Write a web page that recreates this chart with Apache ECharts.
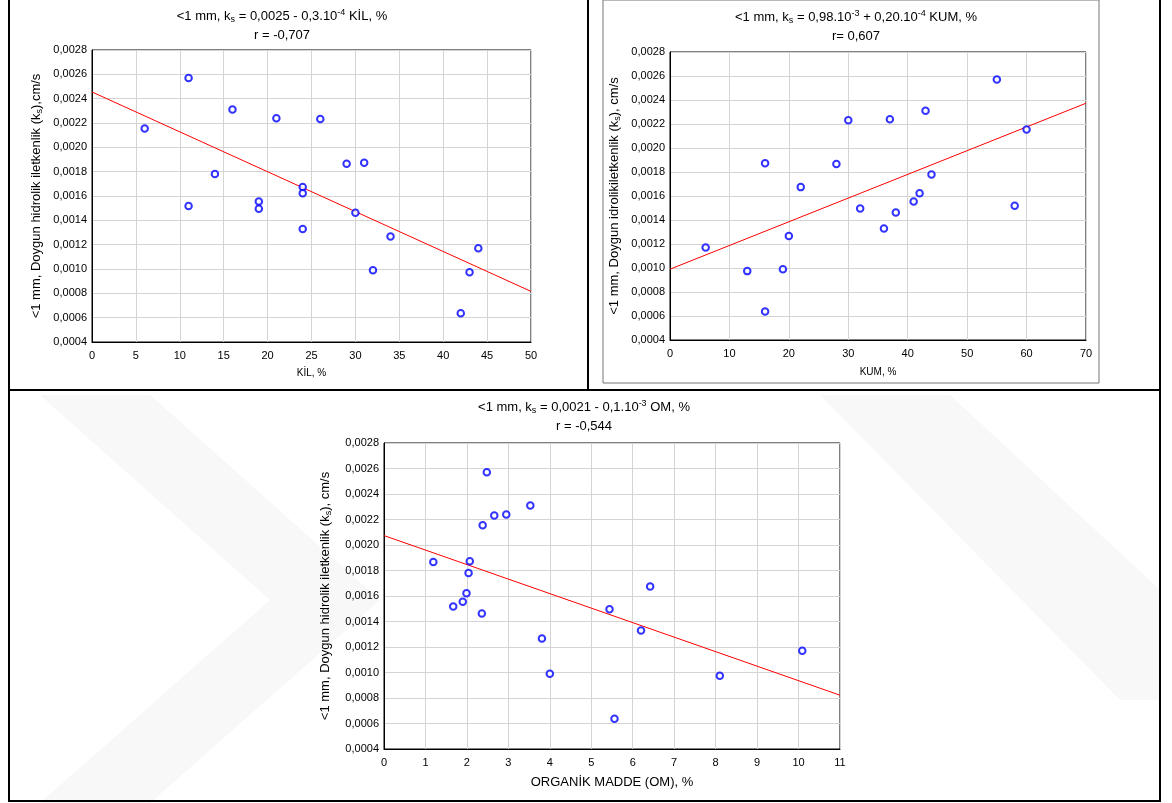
<!DOCTYPE html>
<html>
<head>
<meta charset="utf-8">
<script src="https://cdn.jsdelivr.net/npm/echarts@6/dist/echarts.min.js"></script>
<style>
html,body{margin:0;padding:0;background:#fff;}
#c{width:1172px;height:803px;}
</style>
</head>
<body>
<div id="c"></div>
<script>
// Saturated hydraulic conductivity (ks, cm/s) of the 20 samples, <1 mm
const ksValues = [0.00257, 0.00231, 0.00224, 0.002232, 0.002155, 0.001873, 0.001866, 0.00178, 0.001674, 0.001622,
                  0.001554, 0.001518, 0.001496, 0.001462, 0.001329, 0.001267, 0.00117, 0.00099, 0.000974, 0.000637];
// Clay (KİL, %) per sample
const kilValues = [11, 16, 21, 26, 6, 31, 29, 14, 24, 24, 19, 11, 19, 30, 24, 34, 44, 32, 43, 42];
// Sand (KUM, %) per sample
const kumValues = [55, 43, 37, 30, 60, 16, 28, 44, 22, 42, 41, 58, 32, 38, 36, 20, 6, 19, 13, 16];
// Organic matter (OM, %) per sample
const omValues = [2.48, 3.53, 2.95, 2.66, 2.38, 2.07, 1.19, 2.04, 6.42, 1.99, 1.90, 1.67, 5.44, 2.36, 6.20, 3.81, 10.09, 4.00, 8.10, 5.56];

// Regression lines (end points)
const kilFitX = [0, 50];
const kilFitY = [0.002455, 0.000816];
const kumFitX = [0, 70];
const kumFitY = [0.00099, 0.002373];
const omFitX = [0, 11];
const omFitY = [0.002074, 0.000822];

// Axis ranges / tick steps
const yMin = 0.0004, yMax = 0.0028, yStep = 0.0002;
const kilAxis = [0, 50, 5];
const kumAxis = [0, 70, 10];
const omAxis = [0, 11, 1];

const FONT = '"Liberation Sans", Arial, sans-serif';
const chart = echarts.init(document.getElementById('c'), null, {renderer: 'canvas'});

function pairs(xs, ys) { return xs.map((x, i) => [x, ys[i]]); }

const grids = [
  {left: 92, top: 50, width: 439, height: 292},
  {left: 670, top: 52, width: 416, height: 288},
  {left: 384, top: 443, width: 456, height: 306}
];

const subRich = {
  sub: {fontSize: 9, fontFamily: FONT, color: '#000', padding: [7, 0, 0, 0]},
  sup: {fontSize: 9, fontFamily: FONT, color: '#000', padding: [0, 0, 6, 0]}
};

function xAxis(idx, rng, name, nameSize, gap) {
  return {
    type: 'value', gridIndex: idx, min: rng[0], max: rng[1], interval: rng[2],
    name: name, nameLocation: 'middle', nameGap: gap,
    nameTextStyle: {fontFamily: FONT, fontSize: nameSize, color: '#000'},
    axisLine: {show: true, onZero: false, lineStyle: {color: '#000', width: 1}},
    axisTick: {show: false},
    axisLabel: {fontFamily: FONT, fontSize: 11, color: '#000', margin: 8},
    splitLine: {show: true, lineStyle: {color: '#d4d4d4', width: 1}}
  };
}
function yAxis(idx, name, gap) {
  return {
    type: 'value', gridIndex: idx, min: yMin, max: yMax, interval: yStep,
    name: name, nameLocation: 'middle', nameGap: gap,
    nameTextStyle: {fontFamily: FONT, fontSize: 13, color: '#000', rich: {
      sub: {fontSize: 9, fontFamily: FONT, color: '#000', padding: [7, 0, 0, 0]}
    }},
    axisLine: {show: true, onZero: false, lineStyle: {color: '#000', width: 1}},
    axisTick: {show: false},
    axisLabel: {fontFamily: FONT, fontSize: 11, color: '#000', margin: 5,
      formatter: v => v.toFixed(4).replace('.', ',')},
    splitLine: {show: true, lineStyle: {color: '#d4d4d4', width: 1}}
  };
}

function scatter(idx, xs) {
  return {
    type: 'scatter', xAxisIndex: idx, yAxisIndex: idx,
    data: pairs(xs, ksValues), symbol: 'emptyCircle', symbolSize: 6.5,
    itemStyle: {color: '#0000ff', borderColor: '#0000ff', borderWidth: 1}, z: 5, silent: true
  };
}
function fit(idx, xs, ys) {
  return {
    type: 'line', xAxisIndex: idx, yAxisIndex: idx, data: pairs(xs, ys),
    symbol: 'none', lineStyle: {color: '#ff0000', width: 1}, z: 4, silent: true
  };
}

function titleText(x, y, line1, line2) {
  return [
    {type: 'text', x: x, y: y, style: {text: line1, fontFamily: FONT, fontSize: 13, fill: '#000',
      align: 'center', verticalAlign: 'middle', rich: subRich}},
    {type: 'text', x: x, y: y + 19, style: {text: line2, fontFamily: FONT, fontSize: 13, fill: '#000',
      align: 'center', verticalAlign: 'middle'}}
  ];
}

const watermark = [
  {type: 'polygon', shape: {points: [[40, 395], [150, 395], [380, 600], [150, 803], [40, 803], [270, 600]]},
   style: {fill: '#f8f8f8'}, z: -10, silent: true},
  {type: 'polygon', shape: {points: [[820, 395], [950, 395], [1160, 590], [1160, 700], [1120, 700]]},
   style: {fill: '#f8f8f8'}, z: -10, silent: true}
];

const frames = [
  {type: 'rect', shape: {x: 603, y: 0, width: 496, height: 383}, style: {fill: 'none', stroke: '#777', lineWidth: 1}, z: 10, silent: true},
  {type: 'line', shape: {x1: 9, y1: 0, x2: 9, y2: 801}, style: {stroke: '#000', lineWidth: 2}, z: 10, silent: true},
  {type: 'line', shape: {x1: 588, y1: 0, x2: 588, y2: 390}, style: {stroke: '#000', lineWidth: 2}, z: 10, silent: true},
  {type: 'line', shape: {x1: 1160, y1: 0, x2: 1160, y2: 801}, style: {stroke: '#000', lineWidth: 2}, z: 10, silent: true},
  {type: 'line', shape: {x1: 8, y1: 390, x2: 1161, y2: 390}, style: {stroke: '#000', lineWidth: 2}, z: 10, silent: true},
  {type: 'line', shape: {x1: 8, y1: 801, x2: 1161, y2: 801}, style: {stroke: '#000', lineWidth: 2}, z: 10, silent: true}
];

const option = {
  backgroundColor: '#fff',
  animation: false,
  grid: grids.map(g => Object.assign({show: true, borderColor: '#000', borderWidth: 1, backgroundColor: 'transparent', containLabel: false}, g)),
  xAxis: [
    xAxis(0, kilAxis, 'KİL, %', 10, 26),
    xAxis(1, kumAxis, 'KUM, %', 10, 27),
    xAxis(2, omAxis, 'ORGANİK MADDE (OM), %', 13, 27)
  ],
  yAxis: [
    yAxis(0, '<1 mm, Doygun hidrolik iletkenlik (k{sub|s}),cm/s', 48),
    yAxis(1, '<1 mm, Doygun idrolikiletkenlik (k{sub|s}), cm/s', 48),
    yAxis(2, '<1 mm, Doygun hidrolik iletkenlik (k{sub|s}), cm/s', 51)
  ],
  series: [
    scatter(0, kilValues), fit(0, kilFitX, kilFitY),
    scatter(1, kumValues), fit(1, kumFitX, kumFitY),
    scatter(2, omValues), fit(2, omFitX, omFitY)
  ],
  graphic: [].concat(
    watermark,
    titleText(282, 16, '<1 mm, k{sub|s} = 0,0025 - 0,3.10{sup|-4} KİL, %', 'r = -0,707'),
    titleText(856, 17, '<1 mm, k{sub|s} = 0,98.10{sup|-3} + 0,20.10{sup|-4} KUM, %', 'r= 0,607'),
    titleText(584, 407, '<1 mm, k{sub|s} = 0,0021 - 0,1.10{sup|-3} OM, %', 'r = -0,544'),
    frames
  )
};
chart.setOption(option);
</script>
</body>
</html>
